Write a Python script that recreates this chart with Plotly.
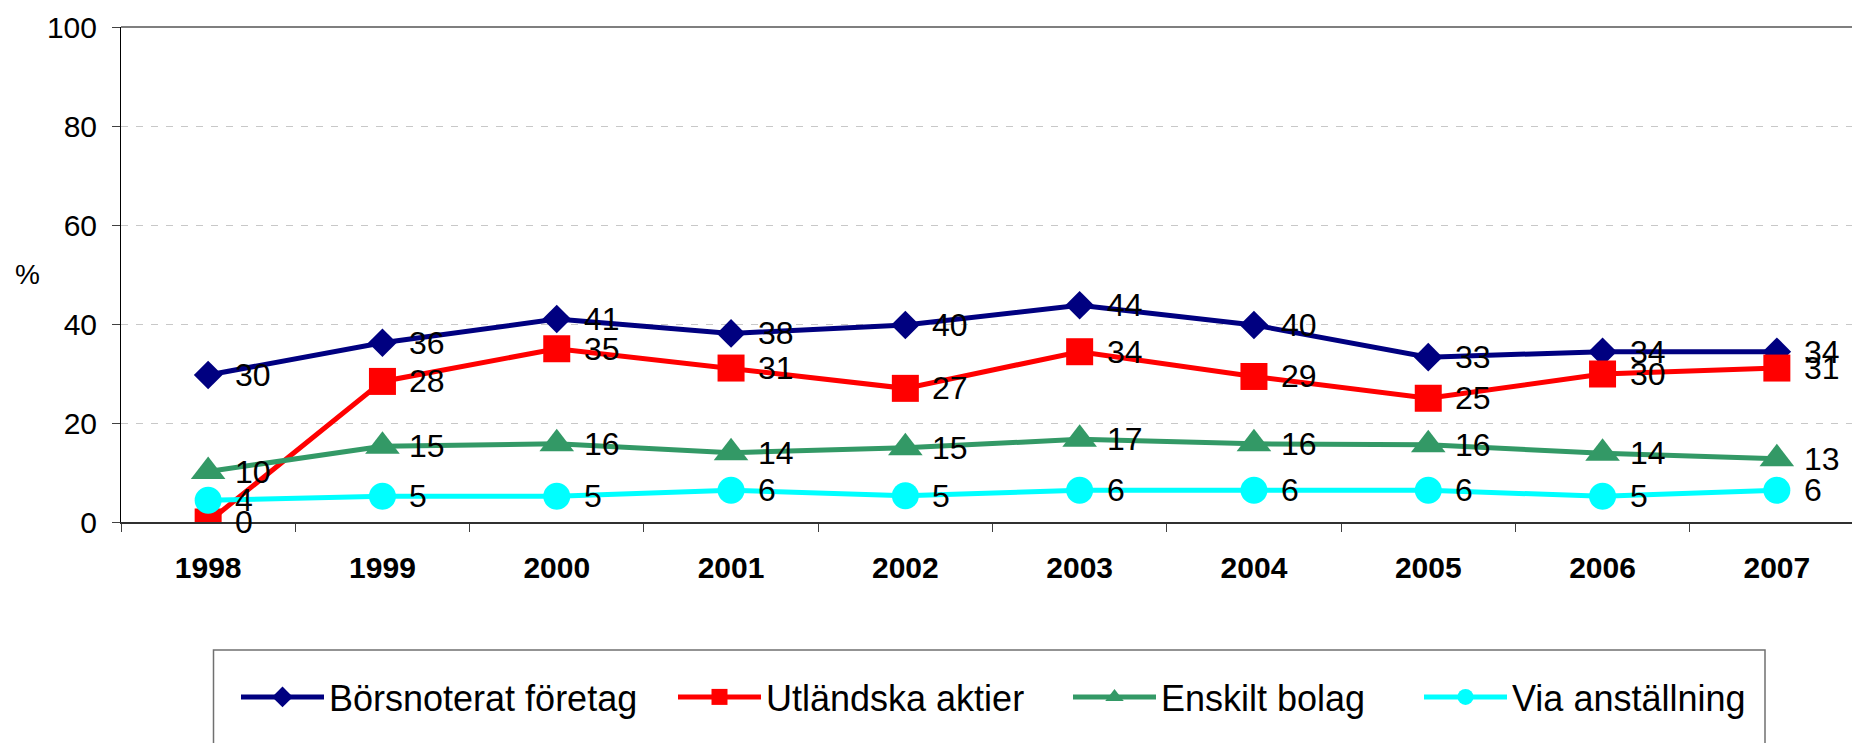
import plotly.graph_objects as go

years = ["1998", "1999", "2000", "2001", "2002", "2003", "2004", "2005", "2006", "2007"]
borsnoterat = [29.7, 36.2, 41.0, 38.1, 39.8, 43.8, 39.8, 33.3, 34.4, 34.4]
utlandska = [0.0, 28.4, 35.0, 31.1, 27.0, 34.4, 29.4, 25.0, 29.9, 31.1]
enskilt = [10.2, 15.3, 15.8, 14.0, 15.0, 16.7, 15.8, 15.6, 13.9, 12.8]
anstallning = [4.4, 5.2, 5.2, 6.4, 5.3, 6.4, 6.4, 6.4, 5.2, 6.4]
yticks = [0, 20, 40, 60, 80, 100]

series = [
    ("Börsnoterat företag", borsnoterat, "#000080", "diamond", 22, 339),
    ("Utländska aktier", utlandska, "#FF0000", "square", 27, 297),
    ("Enskilt bolag", enskilt, "#339966", "triangle-up", 30, 253),
    ("Via anställning", anstallning, "#00FFFF", "circle", 27, 250),
]

FONT = "Liberation Sans, Arial, sans-serif"
W, H = 1852, 743
L, T, B = 121, 27, 522
PW = W - L
PH = B - T
CAT = 174.3


def px_x(x):
    return (x - L) / PW


def px_y(y):
    return (B - y) / PH


fig = go.Figure()
annotations = []
for name, vals, color, sym, size, lw in series:
    fig.add_trace(go.Scatter(
        x=years, y=vals, name=name, mode="lines+markers",
        line=dict(color=color, width=5),
        marker=dict(symbol=sym, size=size, color=color, line=dict(width=0)),
        legendwidth=lw,
    ))
    for i, v in enumerate(vals):
        annotations.append(dict(
            x=i, y=v, xref="x", yref="y", text=f"{round(v):.0f}",
            showarrow=False, xanchor="left", yanchor="middle", xshift=25,
            font=dict(family=FONT, size=32, color="black"),
        ))

annotations.append(dict(
    x=px_x(27), y=px_y(274), xref="paper", yref="paper", text="%",
    showarrow=False, xanchor="center", yanchor="middle",
    font=dict(family=FONT, size=28, color="black"),
))

shapes = [
    dict(type="line", xref="paper", yref="paper", x0=0, x1=1, y0=1, y1=1,
         line=dict(color="#7f7f7f", width=2)),
    dict(type="rect", xref="paper", yref="paper",
         x0=px_x(213.5), x1=px_x(1765), y0=px_y(650), y1=px_y(760),
         line=dict(color="#707070", width=1.5)),
]

fig.update_layout(
    width=W, height=H,
    margin=dict(l=L, r=0, t=T, b=H - B, pad=0),
    paper_bgcolor="white", plot_bgcolor="white",
    font=dict(family=FONT, color="black"),
    showlegend=True,
    legend=dict(
        orientation="h", x=px_x(236), xanchor="left", y=px_y(697), yanchor="middle",
        font=dict(family=FONT, size=36, color="black"),
        bgcolor="rgba(0,0,0,0)", borderwidth=0,
        itemwidth=83, itemsizing="trace",
    ),
    xaxis=dict(
        type="category", range=[-0.5, -0.5 + PW / CAT],
        tickson="boundaries", ticks="outside", ticklen=8, tickcolor="#404040",
        showline=True, linecolor="#303030", linewidth=1.5,
        showgrid=False, zeroline=False,
        tickfont=dict(family=FONT, size=30, color="black", weight="bold"),
        ticklabelstandoff=18,
    ),
    yaxis=dict(
        range=[0, 100], tickvals=yticks, ticks="outside", ticklen=8, tickcolor="#404040",
        showline=True, linecolor="black", linewidth=1,
        showgrid=True, gridcolor="#c8c8c8", gridwidth=1, griddash="7px,8px",
        zeroline=False,
        tickfont=dict(family=FONT, size=30, color="black"),
        ticklabelstandoff=9,
    ),
    annotations=annotations,
    shapes=shapes,
)

fig.write_html(
    "out.html",
    config={"displayModeBar": False},
    post_script="document.body.style.margin='0px';document.body.style.overflow='hidden';",
)
